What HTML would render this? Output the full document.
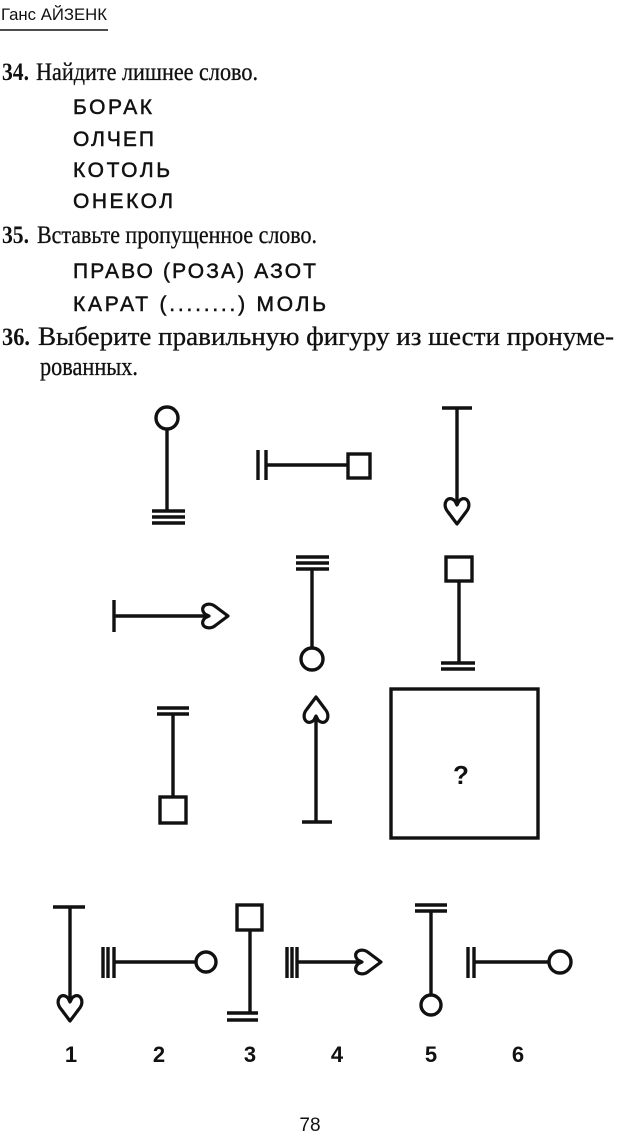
<!DOCTYPE html>
<html><head><meta charset="utf-8"><style>
html,body{margin:0;padding:0;background:#fff;}
svg{display:block;}
.s{font-family:"Liberation Serif",serif;fill:#111;stroke:#111;stroke-width:0.3;}
.b{font-family:"Liberation Serif",serif;font-weight:bold;fill:#111;}
.a{font-family:"Liberation Sans",sans-serif;fill:#111;}
.c{font-family:"Liberation Sans",sans-serif;fill:#111;stroke:#111;stroke-width:0.5;}
</style></head><body>
<svg width="617" height="1139" viewBox="0 0 617 1139" xmlns="http://www.w3.org/2000/svg">
<defs>
<path id="hd" d="M0,0 L-9,-12 C-16,-20 -9,-30 -2,-23 L0,-19 L2,-23 C9,-30 16,-20 9,-12 Z" fill="none" stroke="#111" stroke-width="3.2" stroke-linejoin="round"/>
</defs>
<text x="1" y="20" class="a" font-size="17" textLength="106" lengthAdjust="spacingAndGlyphs">Ганс АЙЗЕНК</text>
<line x1="0" y1="30" x2="108" y2="30" stroke="#111" stroke-width="1.5"/>

<text x="2" y="80" class="b" font-size="25" textLength="27" lengthAdjust="spacingAndGlyphs">34.</text>
<text x="36" y="80" class="s" font-size="25" textLength="222" lengthAdjust="spacingAndGlyphs">Найдите лишнее слово.</text>
<text x="73" y="114" class="c" font-size="21" textLength="79" lengthAdjust="spacing">БОРАК</text>
<text x="73" y="146" class="c" font-size="21" textLength="81" lengthAdjust="spacing">ОЛЧЕП</text>
<text x="73" y="177" class="c" font-size="21" textLength="97" lengthAdjust="spacing">КОТОЛЬ</text>
<text x="73" y="208" class="c" font-size="21" textLength="100" lengthAdjust="spacing">ОНЕКОЛ</text>

<text x="2" y="243" class="b" font-size="25" textLength="27" lengthAdjust="spacingAndGlyphs">35.</text>
<text x="37" y="243" class="s" font-size="25" textLength="280" lengthAdjust="spacingAndGlyphs">Вставьте пропущенное слово.</text>
<text x="73" y="278" class="c" font-size="21" textLength="243" lengthAdjust="spacing">ПРАВО (РОЗА) АЗОТ</text>
<text x="73" y="311" class="c" font-size="21" textLength="253" lengthAdjust="spacing">КАРАТ (........) МОЛЬ</text>

<text x="2" y="345" class="b" font-size="25" textLength="28" lengthAdjust="spacingAndGlyphs">36.</text>
<text x="38" y="345" class="s" font-size="26" textLength="576" lengthAdjust="spacingAndGlyphs">Выберите правильную фигуру из шести пронуме-</text>
<text x="40" y="375" class="s" font-size="26" textLength="98" lengthAdjust="spacingAndGlyphs">рованных.</text>

<g stroke="#111" stroke-width="3.4" fill="none" stroke-linecap="butt">
<circle cx="167" cy="418" r="11"/>
<line x1="167" y1="429" x2="167" y2="510"/>
<line x1="152" y1="511" x2="185" y2="511"/><line x1="152" y1="517" x2="185" y2="517"/><line x1="152" y1="523" x2="185" y2="523"/>
<line x1="258" y1="450" x2="258" y2="480"/><line x1="266" y1="450" x2="266" y2="480"/>
<line x1="266" y1="465" x2="348" y2="465"/>
<rect x="348" y="454" width="22" height="24"/>
<line x1="442" y1="408" x2="472" y2="408"/>
<line x1="457" y1="408" x2="457" y2="505"/>
<use href="#hd" transform="translate(457,524)"/>
<line x1="114" y1="600" x2="114" y2="632"/>
<line x1="114" y1="616" x2="207" y2="616"/>
<use href="#hd" transform="translate(228,616) rotate(-90)"/>
<line x1="296" y1="557" x2="329" y2="557"/><line x1="296" y1="563" x2="329" y2="563"/><line x1="296" y1="569" x2="329" y2="569"/>
<line x1="312" y1="569" x2="312" y2="648"/>
<circle cx="312" cy="659" r="11"/>
<rect x="446" y="557" width="26" height="24"/>
<line x1="459" y1="581" x2="459" y2="663"/>
<line x1="441" y1="663" x2="475" y2="663"/><line x1="441" y1="669" x2="475" y2="669"/>
<line x1="157" y1="708" x2="189" y2="708"/><line x1="157" y1="714" x2="189" y2="714"/>
<line x1="173" y1="714" x2="173" y2="797"/>
<rect x="160" y="797" width="26" height="26"/>
<use href="#hd" transform="translate(316,697) rotate(180)"/>
<line x1="316" y1="716" x2="316" y2="822"/>
<line x1="302" y1="822" x2="332" y2="822"/>
<rect x="391" y="689" width="147" height="149"/>

<line x1="53" y1="907" x2="85" y2="907"/>
<line x1="70" y1="907" x2="70" y2="1000"/>
<use href="#hd" transform="translate(70,1021)"/>
<line x1="103" y1="947" x2="103" y2="978"/><line x1="108" y1="947" x2="108" y2="978"/><line x1="114" y1="947" x2="114" y2="978"/>
<line x1="114" y1="962" x2="196" y2="962"/>
<circle cx="206" cy="962" r="10"/>
<rect x="237" y="905" width="25" height="25"/>
<line x1="250" y1="930" x2="250" y2="1013"/>
<line x1="227" y1="1013" x2="258" y2="1013"/><line x1="227" y1="1020" x2="258" y2="1020"/>
<line x1="287" y1="947" x2="287" y2="978"/><line x1="292" y1="947" x2="292" y2="978"/><line x1="297" y1="947" x2="297" y2="978"/>
<line x1="297" y1="962" x2="360" y2="962"/>
<use href="#hd" transform="translate(381,962) rotate(-90)"/>
<line x1="415" y1="905" x2="447" y2="905"/><line x1="415" y1="911" x2="447" y2="911"/>
<line x1="431" y1="911" x2="431" y2="994"/>
<circle cx="431" cy="1005" r="10"/>
<line x1="468" y1="947" x2="468" y2="978"/><line x1="474" y1="947" x2="474" y2="978"/>
<line x1="474" y1="962" x2="549" y2="962"/>
<circle cx="560" cy="962" r="11"/>
</g>
<text x="461" y="784" class="a" font-size="26" font-weight="bold" text-anchor="middle">?</text>
<g class="a" font-size="22" font-weight="bold" text-anchor="middle">
<text x="71" y="1062">1</text><text x="159" y="1062">2</text><text x="250" y="1062">3</text>
<text x="337" y="1062">4</text><text x="431" y="1062">5</text><text x="518" y="1062">6</text>
</g>
<text x="310" y="1131" class="a" font-size="19" text-anchor="middle">78</text>
</svg>
</body></html>
